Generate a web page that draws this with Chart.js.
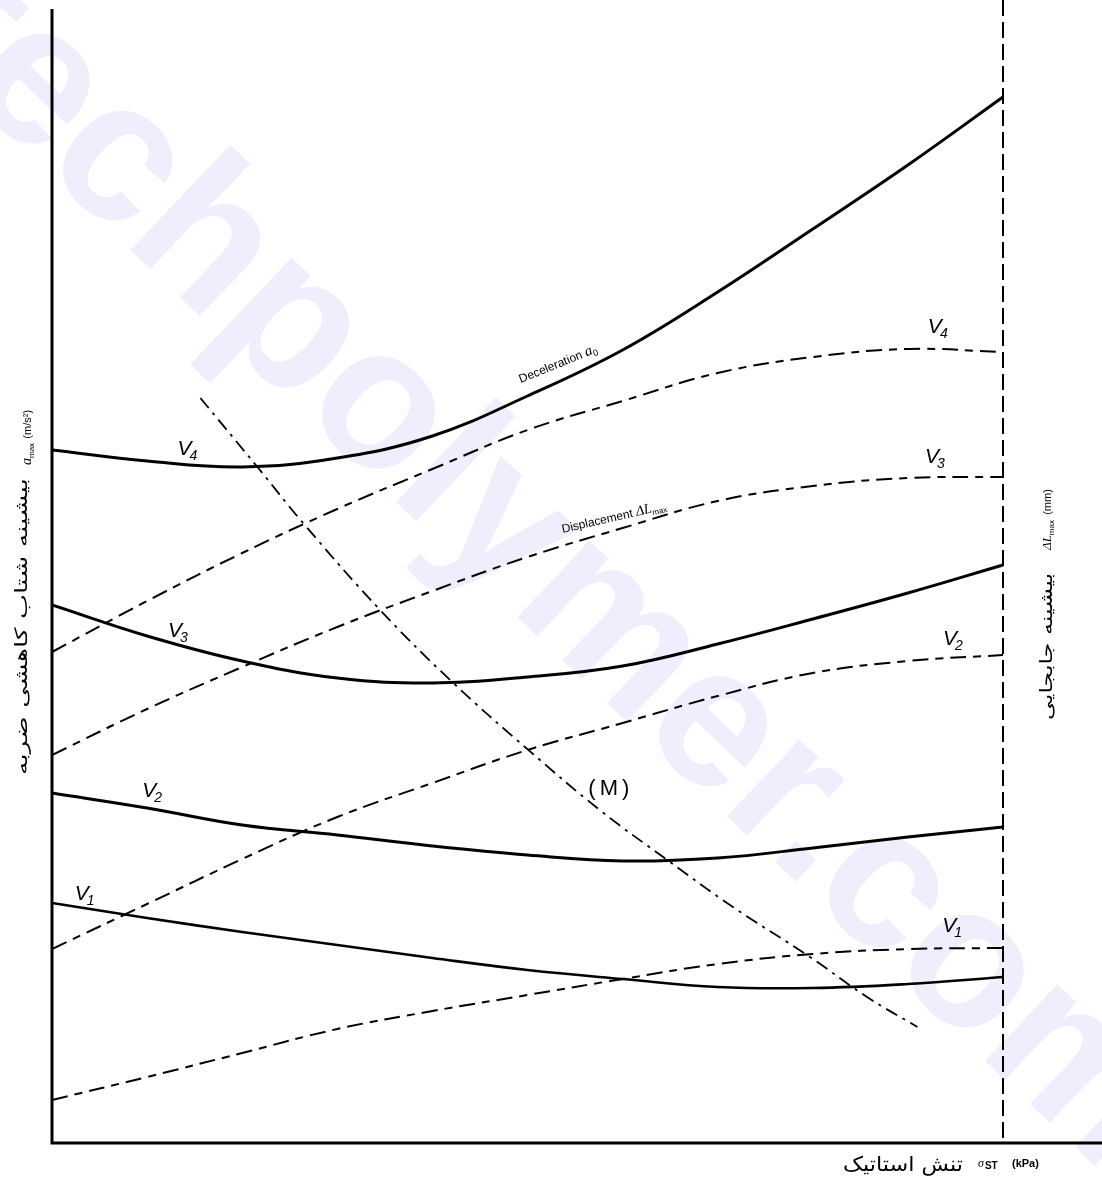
<!DOCTYPE html>
<html>
<head>
<meta charset="utf-8">
<script src="https://cdn.jsdelivr.net/npm/chart.js@4/dist/chart.umd.min.js"></script>
<style>
  html, body { margin: 0; padding: 0; background: #ffffff; }
  #wrap { width: 1102px; height: 1180px; position: relative; }
</style>
</head>
<body>
<div id="wrap"><canvas id="c" width="1102" height="1180"></canvas></div>
<script>
// ---- data (static stress axis in % of range, responses in arbitrary units) ----
const X_GRID = [0, 10, 20, 30, 40, 50, 60, 70, 80, 90, 100];
const decelV4 = [69.3, 68.2, 67.6, 68.5, 70.7, 74.7, 79.3, 85.1, 91.4, 97.8, 104.6];
const decelV3 = [53.8, 50.7, 48.2, 46.5, 46.0, 46.6, 47.7, 49.9, 52.4, 55.0, 57.8];
const decelV2 = [35.0, 33.5, 31.8, 30.8, 29.7, 28.8, 28.2, 28.5, 29.5, 30.6, 31.6];
const decelV1 = [24.0, 22.5, 21.1, 19.8, 18.5, 17.3, 16.4, 15.6, 15.5, 15.9, 16.6];
const dispV4 = [49.1, 54.2, 59.0, 63.4, 67.4, 71.3, 74.2, 77.0, 78.6, 79.4, 79.1];
const dispV3 = [38.8, 43.4, 47.6, 51.6, 55.2, 58.6, 61.5, 64.2, 65.7, 66.5, 66.6];
const dispV2 = [19.4, 23.9, 28.4, 32.6, 36.0, 39.3, 42.0, 44.7, 47.0, 48.2, 48.8];
const dispV1 = [4.3, 6.6, 9.0, 11.4, 13.2, 14.8, 16.4, 17.9, 18.9, 19.4, 19.5];
const mLineX = [15.6, 21.6, 26.4, 34.5, 42.2, 50.1, 57.6, 64.7, 71.6, 79.7, 85.7, 91.0];
const mLineY = [74.5, 67.6, 62.0, 53.3, 46.0, 39.3, 33.3, 28.3, 23.6, 18.6, 14.6, 11.6];
const X_MAX = 110.41;
const Y_MAX = 113.4;
const X_LIMIT = 100;

const speedNames = ['1', '2', '3', '4'];
const yLabelFa = 'بیشینه شتاب کاهشی ضربه';
const y2LabelFa = 'بیشینه جابجایی';
const xLabelFa = 'تنش استاتیک';
const watermark = 'techpolymer.com';

function pts(xs, ys) { return xs.map((x, i) => ({ x: x, y: ys[i] })); }

const solid = { borderColor: '#000', borderWidth: 3, pointRadius: 0, showLine: true, tension: 0.4, fill: false };
const dashed = { borderColor: '#000', borderWidth: 2, pointRadius: 0, showLine: true, tension: 0.4, fill: false, borderDash: [16, 7, 8, 7] };

const datasets = [
  Object.assign({ label: 'a v4', data: pts(X_GRID, decelV4) }, solid),
  Object.assign({ label: 'a v3', data: pts(X_GRID, decelV3) }, solid),
  Object.assign({ label: 'a v2', data: pts(X_GRID, decelV2) }, solid),
  Object.assign({ label: 'a v1', data: pts(X_GRID, decelV1) }, solid, { borderWidth: 2.6 }),
  Object.assign({ label: 'dL v4', data: pts(X_GRID, dispV4) }, dashed),
  Object.assign({ label: 'dL v3', data: pts(X_GRID, dispV3) }, dashed),
  Object.assign({ label: 'dL v2', data: pts(X_GRID, dispV2) }, dashed),
  Object.assign({ label: 'dL v1', data: pts(X_GRID, dispV1) }, dashed),
  Object.assign({ label: 'M', data: pts(mLineX, mLineY) }, dashed, { borderWidth: 1.8, borderDash: [13, 6, 3, 6] })
];

const bgPlugin = {
  id: 'bg',
  beforeDraw(chart) {
    const ctx = chart.ctx;
    ctx.save();
    ctx.fillStyle = '#ffffff';
    ctx.fillRect(0, 0, chart.width, chart.height);
    // watermark
    ctx.font = 'bold 200px "Liberation Sans"';
    const wt = ctx.measureText('t').width;
    const we = ctx.measureText('e').width;
    ctx.translate(35, 88);
    ctx.rotate(43.5 * Math.PI / 180);
    ctx.fillStyle = '#eeeefc';
    ctx.textBaseline = 'alphabetic';
    ctx.fillText(watermark, -(wt + we / 2), 52);
    ctx.restore();
  }
};

function drawV(ctx, xs, ys, X, Y, n) {
  const px = xs.getPixelForValue(X), py = ys.getPixelForValue(Y);
  ctx.font = 'italic 21px "Liberation Sans"';
  ctx.fillText('V', px, py);
  const w = ctx.measureText('V').width;
  ctx.font = 'italic 14px "Liberation Sans"';
  ctx.fillText(n, px + w - 2, py + 5);
}

function drawStretched(ctx, text, x, y, targetW) {
  const w = ctx.measureText(text).width;
  ctx.save();
  ctx.translate(x, y);
  ctx.scale(targetW / w, 1);
  ctx.fillText(text, 0, 0);
  ctx.restore();
}

const annoPlugin = {
  id: 'anno',
  afterDatasetsDraw(chart) {
    const ctx = chart.ctx;
    const xs = chart.scales.x, ys = chart.scales.y;
    const a = chart.chartArea;
    ctx.save();
    ctx.fillStyle = '#000';
    ctx.strokeStyle = '#000';
    ctx.textAlign = 'left';
    ctx.textBaseline = 'alphabetic';

    // right dashed limit line
    const xr = xs.getPixelForValue(X_LIMIT);
    ctx.lineWidth = 2;
    ctx.setLineDash([16, 6]);
    ctx.beginPath();
    ctx.moveTo(xr, 0);
    ctx.lineTo(xr, a.bottom);
    ctx.stroke();
    ctx.setLineDash([]);

    // axes
    ctx.lineWidth = 3;
    ctx.beginPath();
    ctx.moveTo(a.left, a.top);
    ctx.lineTo(a.left, a.bottom);
    ctx.lineTo(a.right, a.bottom);
    ctx.stroke();

    // speed labels
    drawV(ctx, xs, ys, 13.2, 68.8, speedNames[3]);
    drawV(ctx, xs, ys, 12.2, 50.6, speedNames[2]);
    drawV(ctx, xs, ys, 9.5, 34.6, speedNames[1]);
    drawV(ctx, xs, ys, 2.4, 24.3, speedNames[0]);
    drawV(ctx, xs, ys, 92.1, 81.0, speedNames[3]);
    drawV(ctx, xs, ys, 91.8, 68.0, speedNames[2]);
    drawV(ctx, xs, ys, 93.7, 49.8, speedNames[1]);
    drawV(ctx, xs, ys, 93.6, 21.1, speedNames[0]);

    // (M)
    ctx.font = '22px "Liberation Sans"';
    ctx.letterSpacing = '4px';
    ctx.fillText('(M)', xs.getPixelForValue(56.4), ys.getPixelForValue(34.8));
    ctx.letterSpacing = '0px';

    // Deceleration a0
    ctx.save();
    ctx.translate(xs.getPixelForValue(49.3), ys.getPixelForValue(76.0));
    ctx.rotate(-22 * Math.PI / 180);
    ctx.font = '12px "Liberation Sans"';
    ctx.fillText('Deceleration', 0, 0);
    let w = ctx.measureText('Deceleration ').width;
    ctx.font = 'italic 15px "Liberation Serif"';
    ctx.fillText('a', w, 0);
    w += ctx.measureText('a').width;
    ctx.font = '9px "Liberation Sans"';
    ctx.fillText('0', w, 3);
    ctx.restore();

    // Displacement dL max
    ctx.save();
    ctx.translate(xs.getPixelForValue(53.7), ys.getPixelForValue(61.0));
    ctx.rotate(-13 * Math.PI / 180);
    ctx.font = '12px "Liberation Sans"';
    ctx.fillText('Displacement', 0, 0);
    w = ctx.measureText('Displacement ').width;
    ctx.font = 'italic 14px "Liberation Serif"';
    ctx.fillText('\u0394L', w, 0);
    w += ctx.measureText('\u0394L').width;
    ctx.font = '8px "Liberation Sans"';
    ctx.fillText('max', w, 3);
    ctx.restore();

    // left axis title (rotated)
    ctx.save();
    ctx.translate(27, 0);
    ctx.rotate(-Math.PI / 2);
    ctx.font = '17px "DejaVu Sans"';
    drawStretched(ctx, yLabelFa, -775, 0, 297);
    ctx.translate(5, 4);
    ctx.font = 'italic 14px "Liberation Serif"';
    ctx.fillText('a', -470, 0);
    let lw = ctx.measureText('a').width;
    ctx.font = '8px "Liberation Sans"';
    ctx.fillText('max', -470 + lw, 3);
    lw += ctx.measureText('max ').width + 2;
    ctx.font = '11px "Liberation Sans"';
    ctx.fillText('(m/s\u00b2)', -470 + lw, 0);
    ctx.restore();

    // right axis title (rotated)
    ctx.save();
    ctx.translate(1052, 0);
    ctx.rotate(-Math.PI / 2);
    ctx.font = '17px "DejaVu Sans"';
    drawStretched(ctx, y2LabelFa, -720, 0, 147);
    ctx.font = 'italic 13px "Liberation Serif"';
    ctx.fillText('\u0394L', -550, -1);
    let rw = ctx.measureText('\u0394L').width;
    ctx.font = '8px "Liberation Sans"';
    ctx.fillText('max', -550 + rw, 2);
    rw += ctx.measureText('max ').width + 3;
    ctx.font = '11px "Liberation Sans"';
    ctx.fillText('(mm)', -550 + rw, -1);
    ctx.restore();

    // bottom axis title
    ctx.font = '20px "DejaVu Sans"';
    drawStretched(ctx, xLabelFa, 843, 1171, 120);
    ctx.font = 'italic 12px "Liberation Serif"';
    ctx.fillText('\u03c3', 978, 1167);
    let bw = ctx.measureText('\u03c3').width;
    ctx.font = 'bold 10px "Liberation Sans"';
    ctx.fillText('ST', 978 + bw + 1, 1169);
    ctx.font = 'bold 11px "Liberation Sans"';
    ctx.fillText('(kPa)', 1012, 1167);

    ctx.restore();
  }
};

new Chart(document.getElementById('c'), {
  type: 'scatter',
  data: { datasets: datasets },
  options: {
    responsive: false,
    animation: false,
    devicePixelRatio: 1,
    layout: { padding: { left: 52, top: 9, right: 0, bottom: 37 } },
    plugins: { legend: { display: false }, tooltip: { enabled: false }, title: { display: false } },
    scales: {
      x: { type: 'linear', min: 0, max: X_MAX, display: false },
      y: { type: 'linear', min: 0, max: Y_MAX, display: false }
    }
  },
  plugins: [bgPlugin, annoPlugin]
});
</script>
</body>
</html>
